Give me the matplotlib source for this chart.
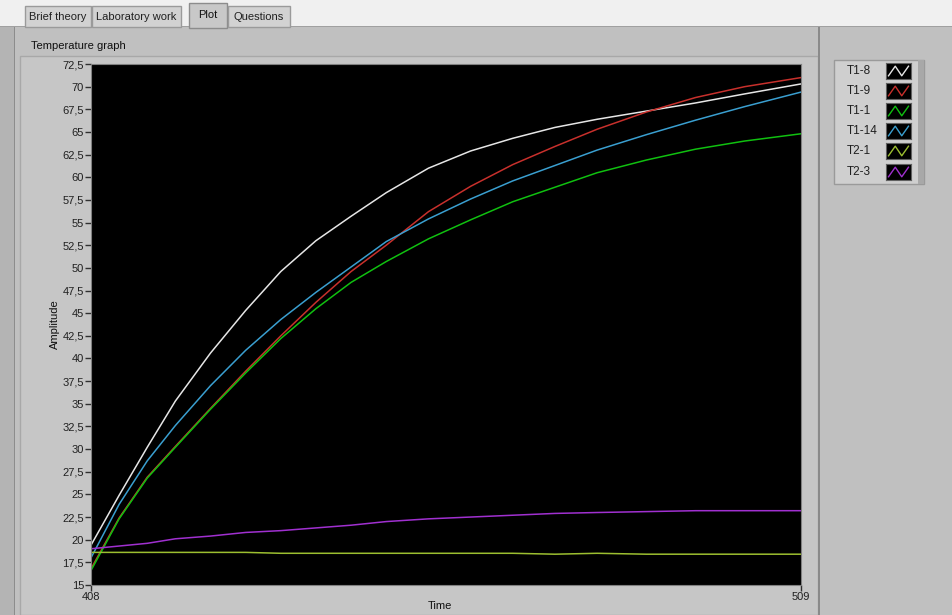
import numpy as np
import matplotlib
matplotlib.use("Agg")
import matplotlib.pyplot as plt
from matplotlib.patches import Rectangle
from matplotlib.ticker import FixedLocator, FuncFormatter

# time samples
time = [408, 412, 416, 420, 425, 430, 435, 440, 445, 450,
        456, 462, 468, 474, 480, 487, 494, 501, 509]

t1_8 = [19.4, 24.9, 30.2, 35.3, 40.6, 45.3, 49.6, 53.0, 55.7, 58.3,
        61.0, 62.9, 64.3, 65.5, 66.4, 67.3, 68.2, 69.2, 70.3]
t1_9 = [16.8, 22.4, 26.9, 30.3, 34.5, 38.6, 42.5, 46.2, 49.6, 52.5,
        56.2, 59.0, 61.4, 63.4, 65.3, 67.2, 68.8, 70.0, 71.0]
t1_1 = [16.6, 22.3, 26.8, 30.2, 34.4, 38.4, 42.2, 45.5, 48.4, 50.7,
        53.2, 55.3, 57.3, 58.9, 60.5, 61.9, 63.1, 64.0, 64.8]
t1_14 = [18.0, 23.9, 28.7, 32.6, 37.0, 40.9, 44.3, 47.3, 50.1, 52.9,
         55.4, 57.6, 59.6, 61.3, 63.0, 64.7, 66.3, 67.8, 69.4]
t2_1 = [18.6, 18.6, 18.6, 18.6, 18.6, 18.6, 18.5, 18.5, 18.5, 18.5,
        18.5, 18.5, 18.5, 18.4, 18.5, 18.4, 18.4, 18.4, 18.4]
t2_3 = [19.0, 19.3, 19.6, 20.1, 20.4, 20.8, 21.0, 21.3, 21.6, 22.0,
        22.3, 22.5, 22.7, 22.9, 23.0, 23.1, 23.2, 23.2, 23.2]

names = ["T1-8", "T1-9", "T1-1", "T1-14", "T2-1", "T2-3"]
series = [t1_8, t1_9, t1_1, t1_14, t2_1, t2_3]
colors = ["#e6e6e6", "#c8302c", "#10c010", "#3a9fd0", "#9cbf30", "#a030d0"]

y_ticks = np.arange(15, 72.6, 2.5)
x_ticks = [408, 509]

W, H = 953, 615
plt.rcParams["font.family"] = ["Liberation Sans", "DejaVu Sans"]
fig = plt.figure(figsize=(W / 100, H / 100), dpi=100)
fig.patch.set_facecolor("#c0c0c0")


def box(x, y, w, h, fc, ec="none", lw=1, z=-5):
    # pixel coords from top-left
    fig.patches.append(Rectangle((x / W, 1 - (y + h) / H), w / W, h / H,
                                 transform=fig.transFigure, facecolor=fc,
                                 edgecolor=ec, linewidth=lw, zorder=z))


# top strip and tabs
box(0, 0, W, 27, "#f0f0f0")
box(0, 26, W, 1, "#a0a0a0", z=-4)
tabs = [("Brief theory", 25, 66), ("Laboratory work", 92, 89),
        ("Plot", 189, 38), ("Questions", 228, 62)]
for label, x, w in tabs:
    if label == "Plot":
        box(x, 3, w, 25, "#c8c8c8", ec="#8c8c8c", z=-3)
        fig.text((x + w / 2) / W, 1 - 15 / H, label, ha="center", va="center",
                 fontsize=8, color="#101010")
    else:
        box(x, 6, w, 21, "#d2d2d2", ec="#9a9a9a", z=-3)
        fig.text((x + w / 2) / W, 1 - 17 / H, label, ha="center", va="center",
                 fontsize=8, color="#202020")

# left border and graph frame
box(0, 27, 14, H - 27, "#b4b4b4", z=-4)
box(14, 27, 1, H - 27, "#8c8c8c", z=-4)
box(20, 56, 798, H - 56, "#c6c6c6", ec="#a8a8a8", z=-4)
box(818, 27, 2, H - 27, "#8a8a8a", z=-4)
fig.text(31 / W, 1 - 46 / H, "Temperature graph", ha="left", va="center",
         fontsize=8, color="#101010")

# plot area
ax = fig.add_axes([91 / W, (H - 585) / H, 710 / W, 521 / H])
ax.set_zorder(5)
ax.set_facecolor("black")
for ys, c in zip(series, colors):
    ax.plot(time, ys, color=c, lw=1.1)
ax.set_xlim(408, 509)
ax.set_ylim(15, 72.5)
ax.yaxis.set_major_locator(FixedLocator(y_ticks))
ax.xaxis.set_major_locator(FixedLocator(x_ticks))
ax.yaxis.set_major_formatter(FuncFormatter(
    lambda v, p: ("%g" % v).replace(".", ",")))
ax.tick_params(axis="both", direction="out", length=4, width=1,
               color="#303030", labelsize=8, labelcolor="#202020", pad=1)
for s in ax.spines.values():
    s.set_color("#808080")
ax.set_ylabel("Amplitude", fontsize=8, color="#101010", labelpad=2)
fig.text(440 / W, 1 - 611 / H, "Time", ha="center", va="bottom",
         fontsize=8, color="#101010")

# legend panel
box(834, 60, 90, 124, "#cfcfcf", ec="#9a9a9a", z=-3)
box(918, 60, 6, 124, "#a8a8a8", z=-2)
row_y = [71, 91, 111, 131, 151, 172]
for label, c, ry in zip(names, colors, row_y):
    fig.text(847 / W, 1 - ry / H, label, ha="left", va="center",
             fontsize=8.5, color="#202020")
    lax = fig.add_axes([886 / W, 1 - (ry + 8) / H, 25 / W, 16 / H])
    lax.set_zorder(6)
    lax.set_facecolor("black")
    lax.plot([0.1, 0.37, 0.63, 0.9], [0.2, 0.8, 0.2, 0.8], color=c, lw=1)
    lax.set_xlim(0, 1)
    lax.set_ylim(0, 1)
    lax.set_xticks([])
    lax.set_yticks([])
    for s in lax.spines.values():
        s.set_color("#606060")

fig.savefig("out.png", dpi=100, facecolor=fig.get_facecolor())
